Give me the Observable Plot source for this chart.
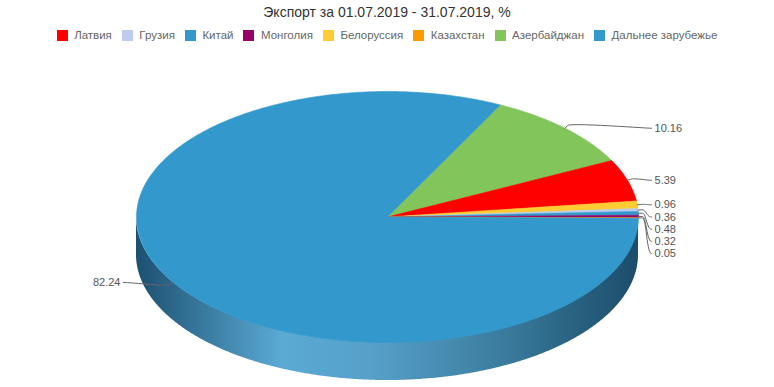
<!DOCTYPE html>
<html><head><meta charset="utf-8">
<script src="https://cdn.jsdelivr.net/npm/d3@7"></script>
<script src="https://cdn.jsdelivr.net/npm/@observablehq/plot@0.6"></script>
<style>
body{margin:0;background:#fff;font-family:"Liberation Sans",Arial,sans-serif;}
#chart{position:relative;width:774px;height:387px;overflow:hidden;background:#fff;}
#title{position:absolute;top:2px;left:0;width:774px;text-align:center;font-size:14px;line-height:20px;color:#333;}
#legend{position:absolute;top:28px;left:0;width:774px;display:flex;justify-content:center;font-size:11.5px;line-height:14px;color:#666;}
.item{display:flex;align-items:center;margin:0 5px;white-space:nowrap;}
.sw{width:11px;height:11px;margin-right:6.5px;flex:none;}
#plot{position:absolute;top:46px;left:0;}
</style></head><body>
<div id="chart"><div id="title"></div><div id="legend"></div><div id="plot"></div></div>
<script>
const title = "Экспорт за 01.07.2019 - 31.07.2019, %";
const names = ["Латвия","Грузия","Китай","Монголия","Белоруссия","Казахстан","Азербайджан","Дальнее зарубежье"];
const values = [5.39, 0.36, 0.48, 0.32, 0.96, 0.05, 10.16, 82.24];
const colors = ["#ff0000","#bccbee","#3399cc","#990066","#ffcc33","#ff9900","#82c55a","#3399cc"];
// order in which slices are laid clockwise around the pie
const sliceOrder = ["Азербайджан","Латвия","Белоруссия","Грузия","Китай","Монголия","Казахстан","Дальнее зарубежье"];
const sideStops = [[0,"#1c5071"],[0.29,"#5aaad4"],[0.47,"#56a0c9"],[0.73,"#3b7c9e"],[0.86,"#2b6483"],[1,"#1c4d6b"]];

// layout
const W = 774, H = 341;
const cx = 387, cy = 170.5, rx = 251, ry = 125.5;
const startAngle = 63.3;          // degrees, counter-clockwise from 3 o'clock
const depth = 38 / ry;            // side height in vertical-radius units
const labelX = 1.052;             // connector end (radius units)
const labelPad = 3;               // px between connector end and text
const labelSpacing = 12.2 / ry;

document.getElementById("title").textContent = title;
const legend = document.getElementById("legend");
names.forEach((n, i) => {
  const it = document.createElement("div"); it.className = "item";
  const sw = document.createElement("div"); sw.className = "sw"; sw.style.background = colors[i];
  const tx = document.createElement("span"); tx.textContent = n;
  it.appendChild(sw); it.appendChild(tx); legend.appendChild(it);
});

const rad = Math.PI / 180;
const total = d3.sum(values);
let cur = startAngle;
const slices = sliceOrder.map(n => {
  const i = names.indexOf(n);
  const a0 = cur, a1 = cur - values[i] / total * 360;
  cur = a1;
  const pts = [{x: 0, y: 0}];
  const steps = Math.max(2, Math.ceil((a0 - a1) / 0.5));
  for (let k = 0; k <= steps; k++) {
    const t = (a0 + (a1 - a0) * k / steps) * rad;
    pts.push({x: Math.cos(t), y: Math.sin(t)});
  }
  pts.push({x: 0, y: 0});
  const mid = (a0 + a1) / 2 * rad;
  return {name: n, value: values[i], color: colors[i], pts, mid};
});

// front side wall
const side = d3.range(180, 360.01, 0.5).map(a => ({x: Math.cos(a * rad), y1: Math.sin(a * rad), y2: Math.sin(a * rad) - depth}));

// labels
const labs = slices.map(s => {
  const ex = Math.cos(s.mid), ey = Math.sin(s.mid);
  return {s, ex, ey, bx: Math.cos(s.mid) * (1 + 4 / rx), by: Math.sin(s.mid) * (1 + 4 / ry), right: ex >= 0, ly: ey};
});
for (const dir of [true, false]) {
  const grp = labs.filter(l => l.right === dir).sort((a, b) => b.ey - a.ey);
  for (let k = 1; k < grp.length; k++) grp[k].ly = Math.min(grp[k].ey, grp[k - 1].ly - labelSpacing);
}
const conn = [];
labs.forEach((l, j) => {
  const lx = l.right ? labelX : -labelX;
  const c1x = lx + (l.right ? -5 : 5) / rx, c1y = l.ly;
  const c2x = 2 * l.bx - l.ex, c2y = 2 * l.by - l.ey;
  const n = 14;
  for (let k = 0; k <= n; k++) {
    const t = k / n, u = 1 - t;
    conn.push({id: j,
      x: u*u*u*lx + 3*u*u*t*c1x + 3*u*t*t*c2x + t*t*t*l.bx,
      y: u*u*u*l.ly + 3*u*u*t*c1y + 3*u*t*t*c2y + t*t*t*l.by});
  }
  conn.push({id: j, x: l.ex, y: l.ey});
  l.lx = lx;
  l.text = l.s.value.toFixed(2);
});

const defs = () => {
  const d = d3.create("svg:defs");
  const g = d.append("linearGradient").attr("id", "side3d").attr("x1", 0).attr("x2", 1).attr("y1", 0).attr("y2", 0);
  sideStops.forEach(([o, c]) => g.append("stop").attr("offset", o).attr("stop-color", c));
  return d.node();
};

const textOpts = {x: "lx", y: "ly", text: "text", fill: "#555", fontSize: 11, fontFamily: "Liberation Sans, Arial, sans-serif"};
const chart = Plot.plot({
  width: W, height: H, margin: 0,
  x: {domain: [-1, 1], range: [cx - rx, cx + rx], axis: null},
  y: {domain: [-1, 1], range: [cy + ry, cy - ry], axis: null},
  style: {background: "transparent", overflow: "visible"},
  marks: [
    defs,
    Plot.areaY(side, {x: "x", y1: "y1", y2: "y2", fill: "url(#side3d)", curve: "linear"}),
    ...slices.map(s => Plot.line(s.pts, {x: "x", y: "y", fill: s.color, stroke: s.color, strokeWidth: 0.6, curve: "linear"})),
    Plot.line(conn, {x: "x", y: "y", z: "id", stroke: "#666", strokeWidth: 1, curve: "linear"}),
    Plot.text(labs.filter(l => l.right), {...textOpts, textAnchor: "start", dx: labelPad}),
    Plot.text(labs.filter(l => !l.right), {...textOpts, textAnchor: "end", dx: -labelPad})
  ]
});
document.getElementById("plot").appendChild(chart);
</script>
</body></html>
